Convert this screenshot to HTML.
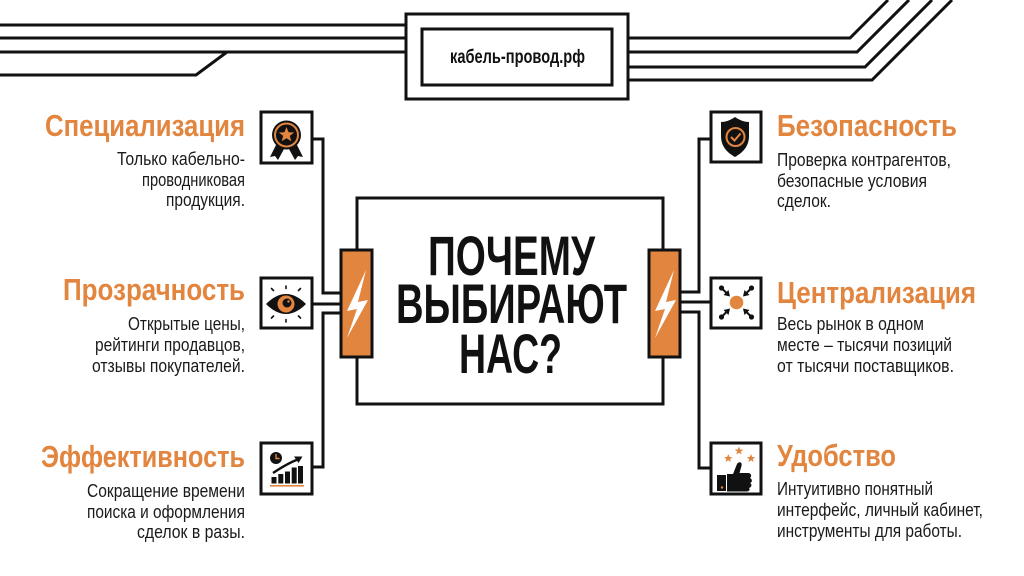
<!DOCTYPE html>
<html><head><meta charset="utf-8"><style>
html,body{margin:0;padding:0;background:#fff;}
svg{display:block;}
text{font-family:"Liberation Sans","DejaVu Sans",sans-serif;}
.h{font-weight:bold;font-size:31px;fill:#E2853F;}
.b{font-size:18.5px;fill:#1a1a1a;}
.t{font-weight:bold;font-size:56px;fill:#111;}
</style></head><body>
<svg width="1024" height="576" viewBox="0 0 1024 576" xmlns="http://www.w3.org/2000/svg">
<g fill="none" stroke="#111" stroke-width="3" stroke-linejoin="miter">
  <line x1="0" y1="25" x2="406" y2="25"/>
  <line x1="0" y1="38" x2="406" y2="38"/>
  <line x1="0" y1="52" x2="406" y2="52"/>
  <polyline points="0,75 196,75 227,52"/>
  <rect x="406" y="14" width="222" height="85"/>
  <rect x="422" y="29" width="190" height="56"/>
  <polyline points="628,38 850,38 888,0"/>
  <polyline points="628,52 857,52 909,0"/>
  <polyline points="628,67 865,67 932,0"/>
  <polyline points="628,80 872,80 952,0"/>
  <polyline points="312,139 323,139 323,293 342,293"/>
  <line x1="312" y1="304" x2="342" y2="304"/>
  <polyline points="342,313 323,313 323,467 312,467"/>
  <polyline points="711,139 699,139 699,292 680,292"/>
  <line x1="680" y1="302" x2="711" y2="302"/>
  <polyline points="680,312 699,312 699,468 711,468"/>
  <polyline points="357,250 357,198 663,198 663,250"/>
  <polyline points="357,357 357,404 663,404 663,357"/>
  <rect x="261" y="112" width="51" height="51"/>
  <rect x="261" y="278" width="51" height="50"/>
  <rect x="261" y="443" width="51" height="51"/>
  <rect x="711" y="112" width="50" height="50"/>
  <rect x="711" y="278" width="50" height="50"/>
  <rect x="711" y="443" width="50" height="51"/>
</g>
<rect x="341" y="250" width="31" height="107" fill="#E2853F" stroke="#111" stroke-width="3"/>
<rect x="649" y="250" width="31" height="107" fill="#E2853F" stroke="#111" stroke-width="3"/>
<polygon points="366,270 347,311 357,309 347,338 368,300 358,302" fill="#fff"/>
<polygon points="674,270 655,311 665,309 655,338 676,300 666,302" fill="#fff"/>

<polygon points="276,145 270,157 275,156 278,160 284,149" fill="#111"/>
<polygon points="297,145 303,157 298,156 295,160 289,149" fill="#111"/>
<circle cx="286.5" cy="135" r="14.5" fill="#111"/>
<circle cx="286.5" cy="135" r="11.5" fill="none" stroke="#E2853F" stroke-width="2"/>
<polygon fill="#E2853F" points="286.5,127 288.6,132.3 294.2,132.5 289.8,135.9 291.3,141.3 286.5,138.2 281.7,141.3 283.2,135.9 278.8,132.5 284.4,132.3"/>

<path d="M266,304 Q286,284 306,304 Q286,324 266,304 Z" fill="#111"/>
<circle cx="286" cy="304" r="8.5" fill="#E2853F"/>
<circle cx="287" cy="303" r="4.5" fill="#111"/>
<circle cx="288.5" cy="301.5" r="1.2" fill="#E2853F"/>
<g stroke="#111" stroke-width="1.6" stroke-linecap="round">
  <line x1="271.5" y1="288.5" x2="273.5" y2="290.5"/>
  <line x1="286" y1="286" x2="286" y2="288.5"/>
  <line x1="300.5" y1="288.5" x2="298.5" y2="290.5"/>
  <line x1="271.5" y1="318" x2="273.5" y2="316"/>
  <line x1="286" y1="319.5" x2="286" y2="322"/>
  <line x1="300.5" y1="318" x2="298.5" y2="316"/>
</g>

<circle cx="276" cy="458" r="6" fill="#111"/>
<polyline points="276,454 276,458.5 279.5,458.5" fill="none" stroke="#E2853F" stroke-width="1.4"/>
<path d="M273,473 Q288,463 299,459" fill="none" stroke="#111" stroke-width="2.5"/>
<polygon points="302.5,456.5 294,456.5 298.5,463" fill="#111"/>
<rect x="271.5" y="477" width="5" height="6.5" fill="#111"/>
<rect x="278.3" y="474" width="5" height="9.5" fill="#111"/>
<rect x="285" y="471.5" width="5" height="12" fill="#111"/>
<rect x="291.7" y="467.5" width="5" height="16" fill="#111"/>
<rect x="298" y="466" width="5" height="17.5" fill="#111"/>
<rect x="270" y="485" width="34" height="1.6" fill="#E2853F"/>

<path d="M735,117 C740,120.5 745,122 749,122 L749,136 C749,147 742,153 735,157 C728,153 721,147 721,136 L721,122 C725,122 730,120.5 735,117 Z" fill="#111"/>
<circle cx="735.5" cy="137" r="9" fill="none" stroke="#E2853F" stroke-width="2"/>
<polyline points="731,137 734.5,140.5 740.5,133.5" fill="none" stroke="#E2853F" stroke-width="2"/>

<circle cx="736.5" cy="302.5" r="6.8" fill="#E2853F"/>
<g stroke="#111" stroke-width="2">
  <line x1="721.5" y1="288" x2="728" y2="294.5"/>
  <line x1="751.5" y1="288" x2="745" y2="294.5"/>
  <line x1="721.5" y1="317" x2="728" y2="310.5"/>
  <line x1="751.5" y1="317" x2="745" y2="310.5"/>
</g>
<g fill="#111">
  <circle cx="721.5" cy="288" r="2.6"/><circle cx="751.5" cy="288" r="2.6"/>
  <circle cx="721.5" cy="317" r="2.6"/><circle cx="751.5" cy="317" r="2.6"/>
  <polygon points="730,296.5 723.5,295 728.5,290"/>
  <polygon points="743,296.5 749.5,295 744.5,290"/>
  <polygon points="730,308.5 723.5,310 728.5,315"/>
  <polygon points="743,308.5 749.5,310 744.5,315"/>
</g>

<g fill="#E2853F">
  <polygon points="728.3,454 729.5,457 732.6,457.1 730.1,459 731,462 728.3,460.2 725.6,462 726.5,459 724,457.1 727.1,457"/>
  <polygon points="739,446.5 740.2,449.5 743.3,449.6 740.8,451.5 741.7,454.5 739,452.7 736.3,454.5 737.2,451.5 734.7,449.6 737.8,449.5"/>
  <polygon points="751,454 752.2,457 755.3,457.1 752.8,459 753.7,462 751,460.2 748.3,462 749.2,459 746.7,457.1 749.8,457"/>
</g>
<rect x="717" y="475" width="9" height="16" fill="#111"/>
<circle cx="722" cy="487.5" r="1.2" fill="#E2853F"/>
<path d="M727,474 L733,474 L737,464 C739,461 742.5,462 741.5,466 L739.5,473 L748,473 C751.5,473 752,476.5 750,478 C752.5,479 752.5,482.5 750,483 C752.5,484 751.5,487.5 749,488 C750.5,489.5 749,491.5 747,491.5 L727,491.5 Z" fill="#111"/>

<text x="450" y="63" textLength="135" lengthAdjust="spacingAndGlyphs" style="font-weight:bold;font-size:19px;fill:#111;">кабель-провод.рф</text>

<text class="t" x="428" y="275" textLength="167" lengthAdjust="spacingAndGlyphs">ПОЧЕМУ</text>
<text class="t" x="396" y="323" textLength="231" lengthAdjust="spacingAndGlyphs">ВЫБИРАЮТ</text>
<text class="t" x="459" y="373" textLength="103" lengthAdjust="spacingAndGlyphs">НАС?</text>

<text class="h" x="45" y="136" textLength="200" lengthAdjust="spacingAndGlyphs">Специализация</text>
<text class="b" x="117" y="165" textLength="128" lengthAdjust="spacingAndGlyphs">Только кабельно-</text>
<text class="b" x="142" y="186" textLength="103" lengthAdjust="spacingAndGlyphs">проводниковая</text>
<text class="b" x="166" y="206" textLength="79" lengthAdjust="spacingAndGlyphs">продукция.</text>

<text class="h" x="63" y="300" textLength="182" lengthAdjust="spacingAndGlyphs">Прозрачность</text>
<text class="b" x="128" y="330" textLength="117" lengthAdjust="spacingAndGlyphs">Открытые цены,</text>
<text class="b" x="95" y="351" textLength="150" lengthAdjust="spacingAndGlyphs">рейтинги продавцов,</text>
<text class="b" x="92" y="372" textLength="153" lengthAdjust="spacingAndGlyphs">отзывы покупателей.</text>

<text class="h" x="41" y="467" textLength="204" lengthAdjust="spacingAndGlyphs">Эффективность</text>
<text class="b" x="87" y="497" textLength="158" lengthAdjust="spacingAndGlyphs">Сокращение времени</text>
<text class="b" x="87" y="518" textLength="158" lengthAdjust="spacingAndGlyphs">поиска и оформления</text>
<text class="b" x="137" y="538" textLength="108" lengthAdjust="spacingAndGlyphs">сделок в разы.</text>

<text class="h" x="777" y="136" textLength="180" lengthAdjust="spacingAndGlyphs">Безопасность</text>
<text class="b" x="777" y="166" textLength="174" lengthAdjust="spacingAndGlyphs">Проверка контрагентов,</text>
<text class="b" x="777" y="187" textLength="150" lengthAdjust="spacingAndGlyphs">безопасные условия</text>
<text class="b" x="777" y="207" textLength="54" lengthAdjust="spacingAndGlyphs">сделок.</text>

<text class="h" x="777" y="303" textLength="199" lengthAdjust="spacingAndGlyphs">Централизация</text>
<text class="b" x="777" y="330" textLength="147" lengthAdjust="spacingAndGlyphs">Весь рынок в одном</text>
<text class="b" x="777" y="351" textLength="175" lengthAdjust="spacingAndGlyphs">месте – тысячи позиций</text>
<text class="b" x="777" y="372" textLength="177" lengthAdjust="spacingAndGlyphs">от тысячи поставщиков.</text>

<text class="h" x="777" y="466" textLength="119" lengthAdjust="spacingAndGlyphs">Удобство</text>
<text class="b" x="777" y="495" textLength="156" lengthAdjust="spacingAndGlyphs">Интуитивно понятный</text>
<text class="b" x="777" y="516" textLength="206" lengthAdjust="spacingAndGlyphs">интерфейс, личный кабинет,</text>
<text class="b" x="777" y="537" textLength="185" lengthAdjust="spacingAndGlyphs">инструменты для работы.</text>
</svg>
</body></html>
